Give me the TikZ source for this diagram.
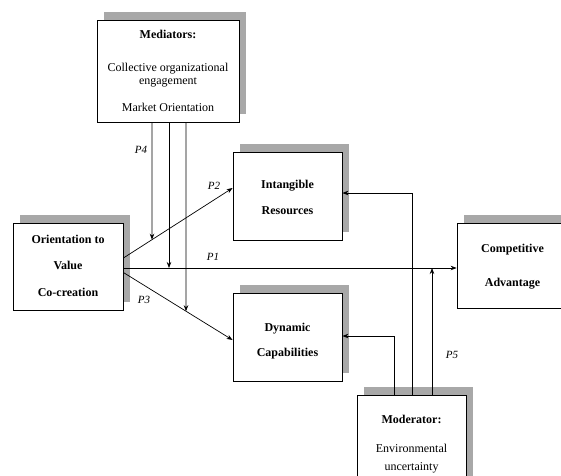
\documentclass[tikz,border=0pt]{standalone}
\usepackage{fontspec}
\setmainfont{Liberation Serif}
\usetikzlibrary{arrows.meta,shadows}
\definecolor{shade}{HTML}{A8A8A8}
\begin{document}
\begin{tikzpicture}[x=1pt,y=-1pt,
  box/.style={draw=black, line width=0.8pt, fill=white, inner sep=0pt,
    general shadow={fill=shade, shadow xshift=7pt, shadow yshift=8pt}},
  txt/.style={anchor=north, inner sep=0pt, align=center, font=\fontsize{12}{13}\selectfont},
  btxt/.style={txt, font=\fontsize{12}{13}\selectfont\bfseries},
  plab/.style={font=\fontsize{11}{13}\selectfont\itshape, inner sep=0pt},
  link/.style={line width=0.7pt},
  arr/.style={link, -{Stealth[length=6pt,width=4.5pt]}}]
\useasboundingbox (0,0) rectangle (561,475);

% boxes
\node[box, minimum width=142pt, minimum height=102pt] (med) at (168,71) {};
\node[box, minimum width=109pt, minimum height=88pt] (ir) at (287.5,196) {};
\node[box, minimum width=109pt, minimum height=88pt] (dc) at (287.5,337) {};
\node[box, minimum width=110pt, minimum height=87pt] (ovc) at (68,266.5) {};
\node[box, minimum width=111pt, minimum height=85pt] (ca) at (512.5,265.5) {};
\node[box, minimum width=109pt, minimum height=89pt] (mod) at (411.5,439.5) {};

% texts
\node[txt] (medt) at (168,29.5) {\textbf{Mediators:}\\[20pt]Collective organizational\\engagement\\[14pt]Market Orientation};
\node[btxt] (irt) at (287.5,179.5) {Intangible\\[13pt]Resources};
\node[btxt] (dct) at (287.5,322.5) {Dynamic\\[12pt]Capabilities};
\node[btxt] (ovct) at (68,234.5) {Orientation to\\[13.5pt]Value\\[13.5pt]Co-creation};
\node[btxt] (cat) at (512.5,243.5) {Competitive\\[21pt]Advantage};
\node[txt] (modt) at (411.5,414.5) {\textbf{Moderator:}\\[16pt]Environmental\\[5pt]uncertainty};

% main connectors
\coordinate (p2s) at ([yshift=8.5pt]ovc.east);
\coordinate (p1s) at ([yshift=-1.5pt]ovc.east);
\coordinate (p3s) at ([yshift=-6pt]ovc.east);
\coordinate (p2e) at ([yshift=8pt]ir.west);
\coordinate (p3e) at ([yshift=-3pt]dc.west);
\draw[arr] (p2s) -- (p2e);
\draw[arr] (p1s) -- (p1s -| ca.west);
\draw[arr] (p3s) -- (p3e);

% mediator connectors
\coordinate (m1) at ([xshift=-16pt]med.south);
\coordinate (m2) at ([xshift=1pt]med.south);
\coordinate (m3) at ([xshift=18pt]med.south);
\coordinate (m1low) at (m1 |- dc.south);
\coordinate (m3low) at (m3 |- dc.south);
\draw[arr] (m1) -- (intersection of p2s--p2e and m1--m1low);
\draw[arr] (m2) -- (m2 |- p1s);
\draw[arr] (m3) -- (intersection of p3s--p3e and m3--m3low);

% moderator connectors
\coordinate (n1) at ([xshift=-17.5pt]mod.north);
\coordinate (n2) at ([xshift=0.5pt]mod.north);
\coordinate (n3) at ([xshift=20.5pt]mod.north);
\draw[arr] (n1) |- ([yshift=1pt]dc.east);
\draw[arr] (n2) |- ([yshift=3pt]ir.east);
\draw[arr] (n3) -- (n3 |- p1s);

% labels
\node[plab] (lp4) at (141,150) {P4};
\node[plab] (lp2) at (214,186) {P2};
\node[plab] (lp1) at (213,257) {P1};
\node[plab] (lp3) at (144,300) {P3};
\node[plab] (lp5) at (452,355) {P5};
\end{tikzpicture}
\end{document}
